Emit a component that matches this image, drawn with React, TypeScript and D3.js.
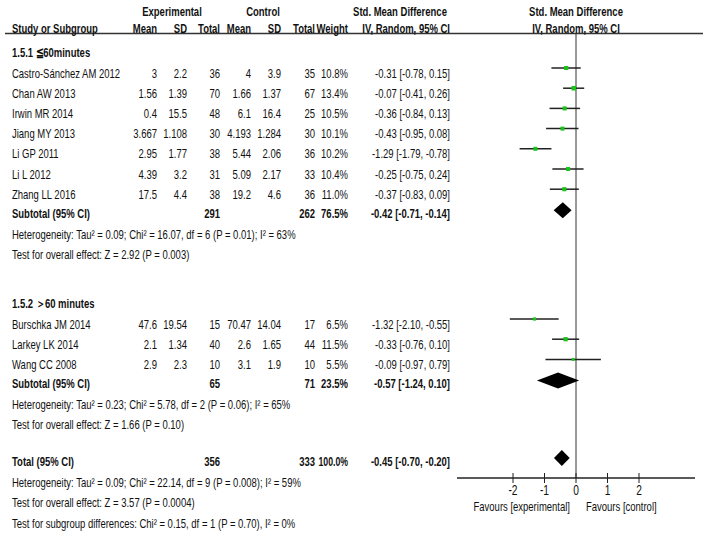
import React from "react";
import * as d3 from "d3";

const studies = ["Castro-Sánchez AM 2012", "Chan AW 2013", "Irwin MR 2014", "Jiang MY 2013", "Li GP 2011", "Li L 2012", "Zhang LL 2016", "Burschka JM 2014", "Larkey LK 2014", "Wang CC 2008"];
const groupOf = [0, 0, 0, 0, 0, 0, 0, 1, 1, 1];
const expMean = ["3", "1.56", "0.4", "3.667", "2.95", "4.39", "17.5", "47.6", "2.1", "2.9"];
const expSD = ["2.2", "1.39", "15.5", "1.108", "1.77", "3.2", "4.4", "19.54", "1.34", "2.3"];
const expN = [36, 70, 48, 30, 38, 31, 38, 15, 40, 10];
const ctlMean = ["4", "1.66", "6.1", "4.193", "5.44", "5.09", "19.2", "70.47", "2.6", "3.1"];
const ctlSD = ["3.9", "1.37", "16.4", "1.284", "2.06", "2.17", "4.6", "14.04", "1.65", "1.9"];
const ctlN = [35, 67, 25, 30, 36, 33, 36, 17, 44, 10];
const weight = [10.8, 13.4, 10.5, 10.1, 10.2, 10.4, 11.0, 6.5, 11.5, 5.5];
const smd = [-0.31, -0.07, -0.36, -0.43, -1.29, -0.25, -0.37, -1.32, -0.33, -0.09];
const ciLow = [-0.78, -0.41, -0.84, -0.95, -1.79, -0.75, -0.83, -2.10, -0.76, -0.97];
const ciHigh = [0.15, 0.26, 0.13, 0.08, -0.78, 0.24, 0.09, -0.55, 0.10, 0.79];

const groupNames = ["1.5.1 ≦60minutes", "1.5.2 ＞60 minutes"];
const groupExpN = [291, 65];
const groupCtlN = [262, 71];
const groupWeight = [76.5, 23.5];
const groupSmd = [-0.42, -0.57];
const groupLow = [-0.71, -1.24];
const groupHigh = [-0.14, 0.10];
const groupHet = [
  "Heterogeneity: Tau² = 0.09; Chi² = 16.07, df = 6 (P = 0.01); I² = 63%",
  "Heterogeneity: Tau² = 0.23; Chi² = 5.78, df = 2 (P = 0.06); I² = 65%",
];
const groupTest = ["Test for overall effect: Z = 2.92 (P = 0.003)", "Test for overall effect: Z = 1.66 (P = 0.10)"];

const totalExpN = 356;
const totalCtlN = 333;
const totalWeight = 100.0;
const totalSmd = -0.45;
const totalLow = -0.70;
const totalHigh = -0.20;
const totalNotes = [
  "Heterogeneity: Tau² = 0.09; Chi² = 22.14, df = 9 (P = 0.008); I² = 59%",
  "Test for overall effect: Z = 3.57 (P = 0.0004)",
  "Test for subgroup differences: Chi² = 0.15, df = 1 (P = 0.70), I² = 0%",
];

const axisTicks = [-2, -1, 0, 1, 2];

const W = 707;
const H = 533;
const FONT = "'Liberation Sans', Arial, sans-serif";
const FS = 13;
const SX = 0.73;

const colRight = { em: 157, esd: 187, en: 220, cm: 251, csd: 281, cn: 315, w: 348, ci: 450 };
const labelX = 12;

const fmtCI = (m: number, lo: number, hi: number) => `${m.toFixed(2)} [${lo.toFixed(2)}, ${hi.toFixed(2)}]`;

function NText(props: { x: number; y: number; anchor?: "start" | "end" | "middle"; bold?: boolean; size?: number; fit?: number; children: React.ReactNode }) {
  const { x, y, anchor = "start", bold = false, size = FS, fit, children } = props;
  const extra = fit ? { textLength: fit / SX, lengthAdjust: "spacingAndGlyphs" } : {};
  return (
    <text
      transform={`translate(${x},${y}) scale(${SX},1)`}
      textAnchor={anchor}
      dominantBaseline="central"
      fontWeight={bold ? "bold" : "normal"}
      fontSize={size}
      {...extra}
    >
      {children}
    </text>
  );
}

export default function App() {
  const x = d3.scaleLinear().domain([-4, 4]).range([450, 702]);
  const axisY = 478;
  const markOffset = -5;
  const diamondOffset = -3;
  const diamondHalf = 8;

  const groupStart = [52, 303];
  const rowStep = 20.2;

  const texts: React.ReactNode[] = [];
  const marks: React.ReactNode[] = [];

  const T = (key: string, xx: number, yy: number, s: string, anchor: "start" | "end" | "middle" = "start", bold = false, fit?: number) =>
    texts.push(
      <NText key={key} x={xx} y={yy} anchor={anchor} bold={bold} fit={fit}>
        {s}
      </NText>
    );

  const diamond = (key: string, yy: number, m: number, lo: number, hi: number) => {
    const p = d3.path();
    p.moveTo(x(lo), yy);
    p.lineTo(x(m), yy - diamondHalf);
    p.lineTo(x(hi), yy);
    p.lineTo(x(m), yy + diamondHalf);
    p.closePath();
    marks.push(<path key={key} d={p.toString()} fill="#000" />);
  };

  groupNames.forEach((gname, g) => {
    const y0 = groupStart[g];
    T(`gh${g}`, labelX, y0, gname, "start", true);
    const idx = studies.map((_, i) => i).filter((i) => groupOf[i] === g);
    idx.forEach((i, k) => {
      const yy = y0 + 21 + k * rowStep;
      T(`s${i}`, labelX, yy, studies[i]);
      T(`em${i}`, colRight.em, yy, expMean[i], "end");
      T(`esd${i}`, colRight.esd, yy, expSD[i], "end");
      T(`en${i}`, colRight.en, yy, String(expN[i]), "end");
      T(`cm${i}`, colRight.cm, yy, ctlMean[i], "end");
      T(`csd${i}`, colRight.csd, yy, ctlSD[i], "end");
      T(`cn${i}`, colRight.cn, yy, String(ctlN[i]), "end");
      T(`w${i}`, colRight.w, yy, `${weight[i].toFixed(1)}%`, "end");
      T(`ci${i}`, colRight.ci, yy, fmtCI(smd[i], ciLow[i], ciHigh[i]), "end");
      const my = yy + markOffset;
      marks.push(<line key={`l${i}`} x1={x(ciLow[i])} x2={x(ciHigh[i])} y1={my} y2={my} stroke="#222" strokeWidth={1.5} />);
      const sz = Math.sqrt(weight[i]) * 1.25;
      marks.push(<rect key={`r${i}`} x={x(smd[i]) - sz / 2} y={my - sz / 2} width={sz} height={sz} fill="#19c419" />);
    });
    const ySub = y0 + 21 + (idx.length - 1) * rowStep + 19;
    T(`sub${g}`, labelX, ySub, "Subtotal (95% CI)", "start", true);
    T(`suben${g}`, colRight.en, ySub, String(groupExpN[g]), "end", true);
    T(`subcn${g}`, colRight.cn, ySub, String(groupCtlN[g]), "end", true);
    T(`subw${g}`, colRight.w, ySub, `${groupWeight[g].toFixed(1)}%`, "end", true);
    T(`subci${g}`, colRight.ci, ySub, fmtCI(groupSmd[g], groupLow[g], groupHigh[g]), "end", true);
    diamond(`d${g}`, ySub + diamondOffset, groupSmd[g], groupLow[g], groupHigh[g]);
    T(`het${g}`, labelX, ySub + 21, groupHet[g]);
    T(`test${g}`, labelX, ySub + 41, groupTest[g]);
  });

  const yTot = 461;
  T("tot", labelX, yTot, "Total (95% CI)", "start", true);
  T("toten", colRight.en, yTot, String(totalExpN), "end", true);
  T("totcn", colRight.cn, yTot, String(totalCtlN), "end", true);
  T("totw", colRight.w, yTot, `${totalWeight.toFixed(1)}%`, "end", true, 29.5);
  T("totci", colRight.ci, yTot, fmtCI(totalSmd, totalLow, totalHigh), "end", true);
  diamond("dt", yTot + diamondOffset, totalSmd, totalLow, totalHigh);
  totalNotes.forEach((s, k) => T(`tn${k}`, labelX, yTot + 21 + k * 20.5, s));

  // headers
  const h1 = 11;
  const h2 = 28;
  T("hExp", 172, h1, "Experimental", "middle", true);
  T("hCtl", 263, h1, "Control", "middle", true);
  T("hSmd", 400, h1, "Std. Mean Difference", "middle", true);
  T("hSmd2", x(0), h1, "Std. Mean Difference", "middle", true);
  T("hStudy", labelX, h2, "Study or Subgroup", "start", true);
  T("hEm", colRight.em, h2, "Mean", "end", true);
  T("hEsd", colRight.esd, h2, "SD", "end", true);
  T("hEn", colRight.en, h2, "Total", "end", true);
  T("hCm", colRight.cm, h2, "Mean", "end", true);
  T("hCsd", colRight.csd, h2, "SD", "end", true);
  T("hCn", colRight.cn, h2, "Total", "end", true);
  T("hW", colRight.w, h2, "Weight", "end", true);
  T("hIv", colRight.ci, h2, "IV, Random, 95% CI", "end", true);
  T("hIv2", x(0), h2, "IV, Random, 95% CI", "middle", true);

  const ruleY = 33.5;

  return (
    <svg width={W} height={H} style={{ position: "absolute", left: 0, top: 0, background: "#fff" }} fontFamily={FONT} fontSize={FS} fill="#111">
      <rect x={0} y={0} width={W} height={H} fill="#fff" />
      <line x1={5} x2={703} y1={ruleY} y2={ruleY} stroke="#333" strokeWidth={1.3} />
      <line x1={x(0)} x2={x(0)} y1={ruleY} y2={axisY} stroke="#333" strokeWidth={1} />
      {marks}
      <line x1={457} x2={695} y1={axisY} y2={axisY} stroke="#222" strokeWidth={1.3} />
      {axisTicks.map((t) => (
        <g key={`t${t}`}>
          <line x1={x(t)} x2={x(t)} y1={axisY - 5} y2={axisY + 5} stroke="#222" strokeWidth={1} />
          <NText x={x(t)} y={axisY + 12} anchor="middle" size={14}>
            {String(t)}
          </NText>
        </g>
      ))}
      <NText x={x(0) - 6} y={506} anchor="end">Favours [experimental]</NText>
      <NText x={x(0) + 10} y={506} anchor="start">Favours [control]</NText>
      {texts}
    </svg>
  );
}
